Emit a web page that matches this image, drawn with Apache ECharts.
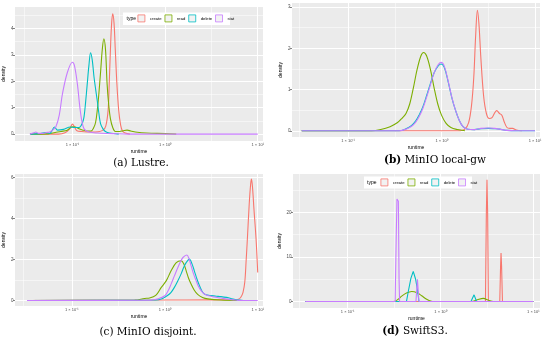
<!DOCTYPE html>
<html><head><meta charset="utf-8">
<script src="https://cdn.jsdelivr.net/npm/echarts@6/dist/echarts.min.js"></script>
<style>html,body{margin:0;padding:0;background:#fff}#c{width:550px;height:342px}</style>
</head><body><div id="c"></div>
<script>
const types = ['create', 'read', 'delete', 'stat'];
const colors = ['#F8766D', '#7CAE00', '#00BFC4', '#C77CFF'];
const xTickValues = [0.1, 1, 10];
const xTickLabels = ['1 × 10⁻¹', '1 × 10⁰', '1 × 10¹'];
const xMinorValues = [0.0316, 0.316, 3.16];

// (a) Lustre
const lustreCreate = [[0.035,0],[0.0708,0],[0.083,0.05],[0.0933,0.2],[0.1,0.38],[0.106,0.25],[0.112,0.13],[0.126,0.1],[0.158,0.08],[0.19,0.09],[0.214,0.15],[0.229,0.3],[0.2427,0.9],[0.2495,1.9],[0.257,3.17],[0.265,4.2],[0.2723,4.55],[0.2812,4.2],[0.2904,3.17],[0.302,1.9],[0.316,0.9],[0.331,0.35],[0.3467,0.12],[0.3715,0.04],[0.417,0]];
const lustreRead = [[0.035,0],[0.055,0.01],[0.065,0.06],[0.075,0.1],[0.088,0.15],[0.1,0.28],[0.108,0.27],[0.118,0.2],[0.13,0.15],[0.145,0.12],[0.1585,0.12],[0.17,0.25],[0.178,0.45],[0.186,0.95],[0.193,1.54],[0.2018,2.4],[0.21,3.2],[0.2183,3.61],[0.2275,3.2],[0.2366,1.91],[0.2466,1.1],[0.257,0.59],[0.2723,0.25],[0.2904,0.1],[0.3236,0.1],[0.3548,0.13],[0.389,0.15],[0.4266,0.12],[0.501,0.07],[0.631,0.04],[1.0,0.02],[1.32,0]];
const lustreDelete = [[0.035,0],[0.045,0.02],[0.051,0.06],[0.057,0.03],[0.0641,0.27],[0.069,0.15],[0.08,0.18],[0.095,0.27],[0.105,0.25],[0.1175,0.25],[0.1227,0.3],[0.129,0.45],[0.1334,0.65],[0.1387,1.2],[0.1446,1.91],[0.1507,2.6],[0.157,3.08],[0.1637,2.8],[0.171,2.16],[0.178,1.7],[0.185,1.28],[0.1928,0.8],[0.201,0.4],[0.2138,0.2],[0.227,0.1],[0.251,0.04],[0.316,0]];
const lustreStat = [[0.0347,0],[0.0385,0.05],[0.0402,0.08],[0.043,0.03],[0.048,0.03],[0.052,0.06],[0.0566,0.08],[0.0611,0.15],[0.0663,0.28],[0.0721,0.72],[0.0782,1.54],[0.0885,2.35],[0.1,2.72],[0.105,2.6],[0.113,1.91],[0.1227,0.78],[0.1334,0.2],[0.151,0.08],[0.185,0.04],[0.268,0.02],[0.4,0],[10,0]];

// (b) MinIO local-gw
const localCreate = [[0.032,0],[1.585,0],[1.778,0.04],[1.95,0.2],[2.09,0.6],[2.213,1.3],[2.317,2.3],[2.42,2.92],[2.512,2.6],[2.63,1.8],[2.818,0.85],[3.02,0.42],[3.236,0.3],[3.467,0.32],[3.715,0.44],[3.89,0.49],[4.17,0.42],[4.416,0.38],[4.677,0.22],[5.01,0.08],[5.37,0.06],[5.75,0.06],[6.31,0.02],[7.24,0]];
const localRead = [[0.032,0],[0.178,0],[0.224,0.03],[0.282,0.1],[0.339,0.2],[0.38,0.31],[0.417,0.42],[0.457,0.65],[0.501,1.05],[0.55,1.5],[0.603,1.82],[0.643,1.9],[0.692,1.82],[0.759,1.5],[0.832,1.05],[0.912,0.65],[1.0,0.38],[1.12,0.18],[1.26,0.08],[1.48,0.03],[1.78,0]];
const localDelete = [[0.032,0],[0.355,0],[0.417,0.05],[0.479,0.13],[0.53,0.24],[0.575,0.38],[0.631,0.58],[0.692,0.85],[0.759,1.14],[0.832,1.4],[0.912,1.56],[0.989,1.62],[1.07,1.54],[1.175,1.2],[1.29,0.8],[1.41,0.5],[1.55,0.25],[1.7,0.1],[1.905,0.04],[2.24,0.03],[2.63,0.05],[3.16,0.06],[3.72,0.05],[4.17,0.04],[5.0,0.01],[6.3,0],[10,0]];
const localStat = [[0.032,0],[0.355,0],[0.417,0.04],[0.479,0.11],[0.53,0.21],[0.575,0.34],[0.631,0.54],[0.692,0.81],[0.759,1.11],[0.832,1.4],[0.912,1.59],[0.989,1.66],[1.07,1.57],[1.175,1.22],[1.29,0.81],[1.41,0.5],[1.55,0.25],[1.7,0.1],[1.905,0.04],[2.24,0.03],[2.63,0.06],[3.16,0.07],[3.72,0.06],[4.17,0.04],[5.0,0.01],[6.3,0],[10,0]];

// (c) MinIO disjoint
const disjCreate = [[0.033,0],[0.3,0.01],[1,0.02],[3,0.03],[5.58,0.03],[6.2,0.06],[6.58,0.16],[6.95,0.4],[7.26,0.9],[7.5,1.9],[7.76,3.1],[8.1,4.7],[8.4,5.7],[8.57,5.93],[8.8,5.5],[9.1,4.5],[9.6,3.0],[10,1.37]];
const disjRead = [[0.033,0],[0.475,0.02],[0.608,0.1],[0.687,0.12],[0.8,0.25],[0.918,0.64],[1.04,0.97],[1.17,1.45],[1.33,1.85],[1.5,1.94],[1.6,1.8],[1.7,1.45],[1.8,1.1],[1.92,0.8],[2.08,0.5],[2.26,0.3],[2.55,0.15],[2.9,0.08],[4.03,0.02],[6,0]];
const disjDelete = [[0.033,0],[0.8,0.02],[0.95,0.1],[1.07,0.24],[1.17,0.4],[1.27,0.64],[1.38,0.95],[1.5,1.3],[1.6,1.62],[1.7,1.85],[1.84,2.02],[1.96,1.8],[2.08,1.45],[2.22,1.05],[2.36,0.73],[2.5,0.48],[2.66,0.32],[2.9,0.26],[3.14,0.24],[3.6,0.21],[4.02,0.19],[4.6,0.15],[5.14,0.1],[6.0,0.03],[7,0]];
const disjStat = [[0.033,0],[0.7,0.01],[0.85,0.08],[1.0,0.23],[1.08,0.45],[1.17,0.8],[1.27,1.2],[1.38,1.6],[1.48,1.9],[1.57,2.1],[1.73,2.22],[1.82,2.05],[1.92,1.7],[2.04,1.3],[2.17,0.98],[2.3,0.7],[2.46,0.48],[2.65,0.33],[2.9,0.24],[3.4,0.17],[4.0,0.12],[4.7,0.07],[5.5,0.03],[7,0],[10,0]];

// (d) SwiftS3
const swiftCreate = [[0.035,0],[3.05,0],[3.12,20],[3.17,27.3],[3.22,20],[3.28,0],[4.35,0],[4.44,8],[4.49,10.9],[4.55,8],[4.65,0],[10,0]];
const swiftRead = [[0.035,0],[0.31,0],[0.35,0.5],[0.382,1.2],[0.43,1.9],[0.49,2.25],[0.56,1.95],[0.627,1.3],[0.71,0.5],[0.8,0.05],[0.85,0],[2.17,0],[2.5,0.4],[2.89,0.7],[3.3,0.3],[3.71,0],[10,0]];
const swiftDelete = [[0.035,0],[0.43,0],[0.45,2.25],[0.48,5.2],[0.509,6.75],[0.54,5.0],[0.568,2.3],[0.586,0],[2.13,0],[2.3,1.5],[2.45,0],[10,0]];
const swiftStat = [[0.035,0],[0.325,0],[0.334,15],[0.34,23],[0.352,22.5],[0.358,5],[0.363,0],[0.544,0],[0.565,5],[0.586,0],[10,0]];

const panelData = [
  [lustreCreate, lustreRead, lustreDelete, lustreStat],
  [localCreate, localRead, localDelete, localStat],
  [disjCreate, disjRead, disjDelete, disjStat],
  [swiftCreate, swiftRead, swiftDelete, swiftStat]
];
const yMajor = [[0,1,2,3,4],[0,1,2,3],[0,2,4,6],[0,10,20]];
const yMinor = [[0.5,1.5,2.5,3.5,4.5],[0.5,1.5,2.5],[1,3,5],[5,15,25]];
const yRange = [[-0.26,4.81],[-0.15,3.1],[-0.27,6.18],[-1.45,28.6]];
const xRange = [[0.024,11.4],[0.0252,11.3],[0.0245,11.4],[0.0258,11.8]];

const grids = [
  {left:14, top:7, width:249, height:134},
  {left:292, top:3, width:248, height:134},
  {left:13, top:174, width:250, height:132},
  {left:293, top:174, width:247, height:134}
];
const smoothBy = [[0.35,0.35,0.35,0.35],[0.35,0.35,0.35,0.35],[0.35,0.35,0.35,0.35],[0,0.35,0,0]];

const tickColor = '#333333';
const labelColor = '#4d4d4d';
const legendData = types.map((t,i)=>({name:t, itemStyle:{color:'#f2f2f2', borderColor:colors[i], borderWidth:0.8}, lineStyle:{opacity:0, width:0}}));

const option = {
  animation: false,
  backgroundColor: '#ffffff',
  grid: grids.map(g => Object.assign({show:true, backgroundColor:'#EBEBEB', borderWidth:0}, g)),
  xAxis: grids.map((g,i) => ({
    type:'log', gridIndex:i, min:xRange[i][0], max:xRange[i][1], logBase:10,
    name:'runtime', nameLocation:'middle', nameGap:8,
    nameTextStyle:{fontSize:5, color:'#000', fontFamily:'Liberation Sans'},
    axisLine:{show:false},
    axisTick:{show:true, length:2, lineStyle:{color:tickColor, width:0.6}, customValues:xTickValues},
    axisLabel:{show:true, fontSize:4, color:labelColor, margin:2, fontFamily:'Liberation Sans',
      customValues:xTickValues,
      formatter:(v)=>{const k=xTickValues.findIndex(t=>Math.abs(Math.log10(t)-Math.log10(v))<1e-6);return k>=0?xTickLabels[k]:'';}},
    splitLine:{show:false}, minorSplitLine:{show:false}
  })),
  yAxis: grids.map((g,i) => ({
    type:'value', gridIndex:i, min:yRange[i][0], max:yRange[i][1],
    name:'density', nameLocation:'middle', nameGap:9, nameRotate:90,
    nameTextStyle:{fontSize:5, color:'#000', fontFamily:'Liberation Sans'},
    axisLine:{show:false},
    axisTick:{show:true, length:2, lineStyle:{color:tickColor, width:0.6}, customValues:yMajor[i]},
    axisLabel:{show:true, fontSize:4.5, color:labelColor, margin:1.5, fontFamily:'Liberation Sans', customValues:yMajor[i]},
    splitLine:{show:false}
  })),
  legend: [
    {left:137.5, top:14.5, itemWidth:7, itemHeight:7, itemGap:3, padding:0, icon:'rect', z:60,
     textStyle:{fontSize:4.2, color:'#000', fontFamily:'Liberation Sans'}, data: legendData},
    {left:380.5, top:178.5, itemWidth:7, itemHeight:7, itemGap:3, padding:0, icon:'rect', z:60,
     textStyle:{fontSize:4.2, color:'#000', fontFamily:'Liberation Sans'}, data: legendData}
  ],
  graphic: [
    {type:'rect', shape:{x:123, y:12.5, width:107, height:12.5}, style:{fill:'#fff'}, z:50},
    {type:'text', x:126.5, y:18.7, style:{text:'type', fontSize:5, fill:'#000', fontFamily:'Liberation Sans', verticalAlign:'middle'}, z:51},
    {type:'rect', shape:{x:364, y:176.5, width:108, height:12}, style:{fill:'#fff'}, z:50},
    {type:'text', x:367, y:182.5, style:{text:'type', fontSize:5, fill:'#000', fontFamily:'Liberation Sans', verticalAlign:'middle'}, z:51},
    {type:'text', x:141, y:163, style:{text:'(a) Lustre.', fontSize:10.5, fill:'#000', fontFamily:'DejaVu Serif', align:'center', verticalAlign:'middle'}},
    {type:'text', x:435, y:160, style:{text:'{b|(b)} MinIO local-gw', fontSize:10.5, fill:'#000', fontFamily:'DejaVu Serif', align:'center', verticalAlign:'middle', rich:{b:{fontWeight:'bold', fontSize:10.5, fontFamily:'DejaVu Serif'}}}},
    {type:'text', x:148, y:332, style:{text:'(c) MinIO disjoint.', fontSize:10.5, fill:'#000', fontFamily:'DejaVu Serif', align:'center', verticalAlign:'middle'}},
    {type:'text', x:415, y:331, style:{text:'{b|(d)} SwiftS3.', fontSize:10.5, fill:'#000', fontFamily:'DejaVu Serif', align:'center', verticalAlign:'middle', rich:{b:{fontWeight:'bold', fontSize:10.5, fontFamily:'DejaVu Serif'}}}}
  ],
  series: []
};

grids.forEach((g, p) => {
  const ml = [];
  yMinor[p].forEach(v => ml.push({yAxis:v, lineStyle:{color:'#ffffff', width:0.5, type:'solid'}}));
  xMinorValues.forEach(v => ml.push({xAxis:v, lineStyle:{color:'#ffffff', width:0.5, type:'solid'}}));
  yMajor[p].forEach(v => ml.push({yAxis:v, lineStyle:{color:'#ffffff', width:1, type:'solid'}}));
  xTickValues.forEach(v => ml.push({xAxis:v, lineStyle:{color:'#ffffff', width:1, type:'solid'}}));
  option.series.push({
    type:'line', name:'_grid'+p, xAxisIndex:p, yAxisIndex:p, z:1,
    data:[[1,0]], showSymbol:false, lineStyle:{opacity:0}, silent:true,
    markLine:{silent:true, symbol:['none','none'], label:{show:false}, animation:false, z:1, data:ml}
  });
  types.forEach((t, k) => {
    option.series.push({
      type:'line', name:t, xAxisIndex:p, yAxisIndex:p, z:3+k,
      data: panelData[p][k], showSymbol:false, smooth: smoothBy[p][k],
      lineStyle:{color:colors[k], width:1.1}, itemStyle:{color:colors[k]}, silent:true
    });
  });
});

const chart = echarts.init(document.getElementById('c'), null, {renderer:'canvas'});
chart.setOption(option);
</script>
</body></html>
